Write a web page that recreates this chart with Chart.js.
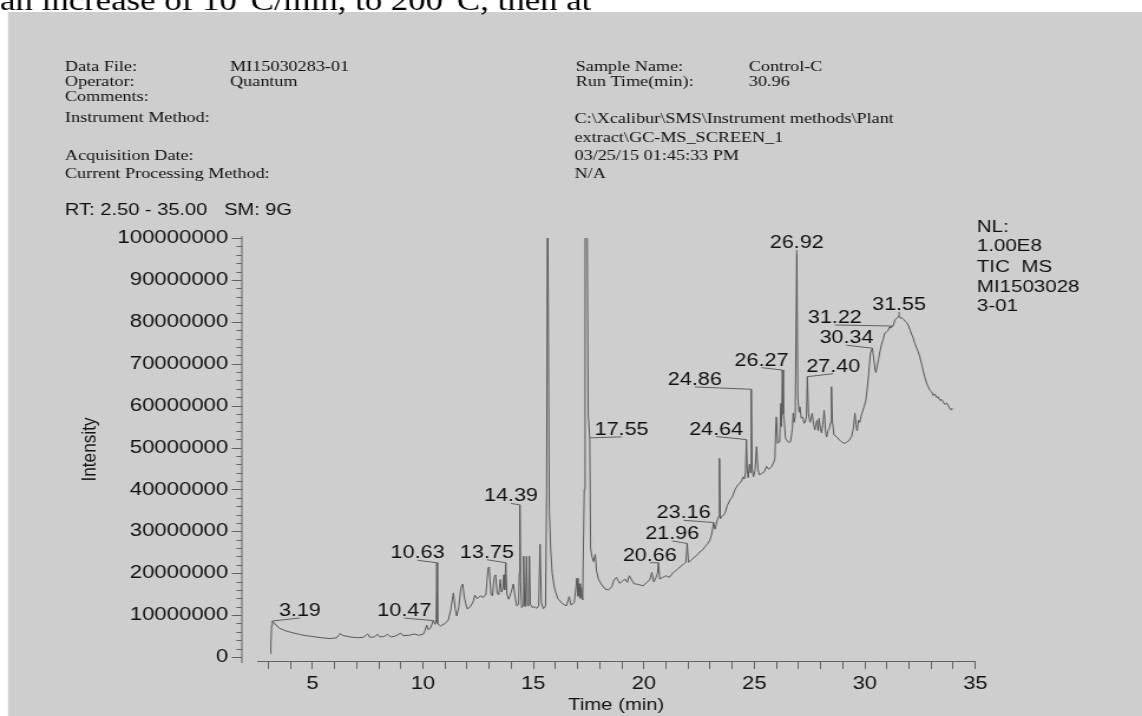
<!DOCTYPE html>
<html>
<head>
<meta charset="utf-8">
<title>TIC chromatogram – Control-C</title>
<script src="https://cdn.jsdelivr.net/npm/chart.js@4.4.1/dist/chart.umd.min.js"></script>
<style>
  html, body { margin: 0; padding: 0; background: #ffffff; overflow: hidden; }
  #tic { display: block; }
</style>
</head>
<body>
<!-- the printout is stretched sideways: 968 canvas px shown over 1142 screen px -->
<canvas id="tic" width="968" height="716" style="width:1142px;height:716px"></canvas>
<script>
// ---- chromatogram trace: retention time (min) and intensity (millions of counts) ----
const traceTime = [
  3.10, 3.12, 3.15, 3.19, 3.30, 3.50, 3.80, 4.10, 4.40, 4.70,
  5.00, 5.40, 5.80, 6.10, 6.25, 6.35, 6.50, 6.70, 7.00, 7.30,
  7.50, 7.60, 7.80, 7.95, 8.05, 8.25, 8.40, 8.55, 8.75, 9.00,
  9.10, 9.40, 9.60, 9.80, 10.00, 10.10, 10.17, 10.25, 10.35, 10.47,
  10.55, 10.60, 10.63, 10.66, 10.80, 11.00, 11.15, 11.25, 11.38, 11.46,
  11.53, 11.62, 11.72, 11.80, 11.88, 12.00, 12.15, 12.28, 12.35, 12.45,
  12.60, 12.73, 12.85, 12.95, 13.00, 13.08, 13.15, 13.22, 13.29, 13.36,
  13.43, 13.50, 13.56, 13.62, 13.66, 13.70, 13.75, 13.80, 13.88, 14.00,
  14.09, 14.18, 14.25, 14.33, 14.36, 14.39, 14.42, 14.47, 14.52, 14.56,
  14.60, 14.64, 14.69, 14.73, 14.78, 14.82, 14.86, 14.95, 15.05, 15.15,
  15.24, 15.30, 15.36, 15.45, 15.55, 15.60, 15.64, 15.68, 15.72, 15.78,
  15.85, 15.95, 16.10, 16.30, 16.49, 16.62, 16.70, 16.85, 16.97, 17.02,
  17.08, 17.12, 17.17, 17.23, 17.30, 17.34, 17.42, 17.48, 17.55, 17.59,
  17.65, 17.72, 17.80, 17.86, 17.94, 18.10, 18.25, 18.40, 18.55, 18.65,
  18.76, 18.90, 19.05, 19.15, 19.25, 19.34, 19.45, 19.55, 19.67, 19.82,
  19.97, 20.12, 20.27, 20.36, 20.45, 20.55, 20.62, 20.66, 20.72, 20.85,
  21.00, 21.15, 21.30, 21.45, 21.63, 21.80, 21.90, 21.96, 22.02, 22.15,
  22.31, 22.45, 22.53, 22.65, 22.76, 22.88, 22.99, 23.08, 23.16, 23.22,
  23.32, 23.38, 23.42, 23.46, 23.55, 23.67, 23.78, 23.90, 24.00, 24.12,
  24.22, 24.34, 24.42, 24.49, 24.55, 24.60, 24.64, 24.68, 24.72, 24.78,
  24.82, 24.86, 24.90, 24.96, 25.03, 25.10, 25.16, 25.22, 25.33, 25.45,
  25.55, 25.65, 25.78, 25.88, 25.93, 25.97, 26.00, 26.05, 26.10, 26.15,
  26.20, 26.23, 26.27, 26.31, 26.35, 26.41, 26.46, 26.55, 26.64, 26.72,
  26.76, 26.80, 26.85, 26.92, 26.97, 27.02, 27.06, 27.12, 27.18, 27.25,
  27.30, 27.36, 27.40, 27.45, 27.52, 27.57, 27.62, 27.68, 27.74, 27.80,
  27.84, 27.89, 27.93, 27.99, 28.04, 28.10, 28.16, 28.22, 28.27, 28.33,
  28.39, 28.45, 28.49, 28.53, 28.60, 28.72, 28.85, 28.94, 29.05, 29.17,
  29.30, 29.40, 29.48, 29.55, 29.60, 29.65, 29.72, 29.77, 29.83, 29.89,
  29.97, 30.05, 30.15, 30.25, 30.34, 30.41, 30.47, 30.50, 30.56, 30.62,
  30.68, 30.75, 30.83, 30.90, 30.98, 31.05, 31.12, 31.17, 31.22, 31.27,
  31.36, 31.45, 31.55, 31.62, 31.67, 31.75, 31.83, 31.90, 31.98, 32.05,
  32.11, 32.18, 32.26, 32.34, 32.41, 32.48, 32.56, 32.63, 32.71, 32.79,
  32.87, 32.95, 33.02, 33.10, 33.17, 33.25, 33.32, 33.40, 33.47, 33.54,
  33.62, 33.70, 33.77, 33.85, 33.90, 33.94
];
const traceIntensity = [
  0.8, 3.0, 7.5, 8.6, 7.9, 6.9, 6.2, 5.8, 5.4, 5.1,
  4.9, 4.6, 4.4, 4.6, 5.6, 5.2, 5.0, 4.8, 4.6, 4.7,
  5.5, 4.7, 4.8, 5.4, 4.8, 4.9, 5.4, 4.8, 5.0, 5.7,
  5.1, 5.2, 5.5, 5.2, 5.4, 6.3, 7.6, 6.5, 7.0, 8.7,
  7.8, 9.0, 22.5, 8.0, 7.4, 8.0, 8.8, 11.0, 15.3, 11.5,
  9.8, 11.8, 16.5, 17.4, 14.0, 11.5, 12.0, 13.3, 14.8, 13.9,
  14.6, 14.2, 15.0, 21.2, 21.5, 15.0, 14.6, 19.0, 19.6, 15.3,
  14.8, 18.5, 15.5, 16.5, 19.6, 16.0, 22.5, 15.0, 13.8, 15.5,
  17.4, 14.0, 12.2, 12.6, 20.0, 36.3, 18.0, 11.8, 12.2, 24.1,
  12.4, 12.0, 24.0, 12.3, 12.2, 24.1, 12.6, 11.8, 12.0, 11.6,
  12.2, 26.9, 13.0, 11.5, 12.2, 40.0, 118, 118, 35.0, 26.0,
  20.0, 16.5, 14.0, 12.8, 12.2, 14.4, 12.4, 13.0, 18.8, 14.5,
  17.5, 14.0, 16.6, 13.6, 40.0, 118, 118, 58.0, 52.3, 26.0,
  24.0, 22.8, 24.5, 20.5, 18.6, 17.2, 16.2, 16.0, 16.8, 18.4,
  19.0, 17.6, 18.2, 18.6, 17.8, 19.4, 18.4, 17.5, 17.4, 17.2,
  17.0, 17.8, 18.4, 20.2, 17.9, 19.0, 20.0, 22.5, 18.6, 19.0,
  19.4, 19.0, 20.0, 20.6, 21.5, 22.2, 22.6, 27.1, 22.6, 23.2,
  23.9, 24.6, 25.1, 25.5, 26.3, 27.0, 27.9, 29.6, 32.1, 30.5,
  32.7, 33.5, 47.4, 33.0, 33.6, 34.3, 36.2, 37.5, 38.2, 39.9,
  40.8, 41.5, 42.0, 43.0, 42.5, 44.0, 51.9, 44.5, 42.8, 46.0,
  44.0, 63.9, 45.0, 43.0, 44.5, 50.2, 45.0, 43.5, 43.8, 44.2,
  45.5, 44.8, 45.4, 46.5, 47.4, 55.0, 57.3, 51.0, 51.4, 52.5,
  60.5, 55.0, 68.5, 58.0, 56.6, 52.2, 51.8, 51.2, 51.4, 54.5,
  58.2, 56.0, 57.5, 96.3, 62.0, 58.5, 59.7, 57.0, 57.3, 55.8,
  56.0, 57.5, 66.9, 58.0, 56.0, 57.0, 58.2, 55.5, 54.2, 56.0,
  56.5, 54.0, 57.0, 54.5, 53.5, 55.5, 58.9, 54.0, 52.5, 54.0,
  54.5, 56.0, 64.5, 56.5, 53.0, 52.6, 51.8, 51.4, 51.0, 51.2,
  51.8, 52.6, 54.5, 58.2, 55.5, 54.0, 56.5, 56.0, 57.5, 58.5,
  59.8, 61.3, 66.1, 72.5, 73.7, 70.9, 68.5, 67.9, 69.5, 71.0,
  72.8, 74.5, 75.8, 77.3, 77.6, 77.9, 78.8, 78.5, 79.0, 78.9,
  80.4, 80.9, 81.4, 80.8, 81.0, 80.6, 80.1, 79.8, 79.0, 78.0,
  77.1, 76.3, 74.9, 73.8, 72.9, 71.8, 70.1, 68.6, 66.9, 65.4,
  64.5, 63.6, 63.3, 62.4, 62.8, 61.9, 62.1, 61.2, 61.5, 60.9,
  60.3, 60.6, 60.1, 59.2, 59.0, 59.4
];

// retention times that carry a peak label
const peakTimes = [3.19, 10.47, 10.63, 13.75, 14.39, 17.55, 20.66, 21.96, 23.16,
                   24.64, 24.86, 26.27, 26.92, 27.40, 30.34, 31.22, 31.55];

// axis ticks
const xTickValues = [3, 4, 5, 6, 7, 8, 9, 10, 11, 12, 13, 14, 15, 16, 17, 18, 19,
                     20, 21, 22, 23, 24, 25, 26, 27, 28, 29, 30, 31, 32, 33, 34, 35];
const xLabelValues = [5, 10, 15, 20, 25, 30, 35];
const yTickValues = [0, 10000000, 20000000, 30000000, 40000000, 50000000,
                     60000000, 70000000, 80000000, 90000000, 100000000];
const yMinorStep = 2000000;

// run header text
const pageFragment = 'an increase of 10\u00B0C/min, to 200\u00B0C, then at';
const headerLabels = ['Data File:', 'Operator:', 'Comments:', 'Instrument Method:',
                      'Acquisition Date:', 'Current Processing Method:'];
const headerValues = ['MI15030283-01', 'Quantum'];
const sampleLabels = ['Sample Name:', 'Run Time(min):'];
const sampleValues = ['Control-C', '30.96'];
const methodLines = ['C:\\Xcalibur\\SMS\\Instrument methods\\Plant',
                     'extract\\GC-MS_SCREEN_1', '03/25/15 01:45:33 PM', 'N/A'];
const rangeLine = 'RT: 2.50 - 35.00   SM: 9G';
const normLines = ['NL:', '1.00E8', 'TIC  MS', 'MI1503028', '3-01'];

// ---- drawing styles & placement ----
const SANS = '"Liberation Sans", Arial, Helvetica, sans-serif';
const SERIF = '"Liberation Serif", "Times New Roman", serif';
const INK = '#111111';
const AXIS = '#626262';

// label box offset (canvas px) from each labelled apex
const peakLabelOffsets = [
  [23.3, -10], [-24.6, -9.5], [-16.3, -9.4], [-16, -10], [-7.6, -8.5], [27, -8],
  [-7.3, -7], [-12.7, -9.5], [-25.5, -9.2], [-25.6, -10], [-47.8, -9.3],
  [-17.7, -9.3], [0, -10.5], [21.9, -10], [-21.9, -10], [-48.3, -8], [0, -11]
];

const headerRowsLeft = [66, 81, 96, 117, 155, 173];
const headerRowsRight = [118, 137, 155, 173];
const normRows = [226, 245, 266, 286, 305];

// page background, grey report panel and the header block
const sheet = {
  id: 'sheet',
  beforeDraw(chart) {
    const ctx = chart.ctx;
    ctx.save();
    ctx.fillStyle = '#ffffff';
    ctx.fillRect(0, 0, chart.width, chart.height);
    ctx.fillStyle = '#cecece';
    ctx.fillRect(6.8, 12, chart.width, chart.height);

    ctx.fillStyle = '#000000';
    ctx.textBaseline = 'alphabetic';
    ctx.textAlign = 'left';
    ctx.font = '29.5px ' + SERIF;
    ctx.fillText(pageFragment, 0, 9.5);

    ctx.fillStyle = INK;
    ctx.font = '15.4px ' + SERIF;
    headerLabels.forEach((t, i) => ctx.fillText(t, 55.1, headerRowsLeft[i] + 5));
    headerValues.forEach((t, i) => ctx.fillText(t, 195, headerRowsLeft[i] + 5));
    sampleLabels.forEach((t, i) => ctx.fillText(t, 488, headerRowsLeft[i] + 5));
    sampleValues.forEach((t, i) => ctx.fillText(t, 634.7, headerRowsLeft[i] + 5));
    methodLines.forEach((t, i) => ctx.fillText(t, 487, headerRowsRight[i] + 5));

    ctx.font = '17px ' + SANS;
    ctx.fillText(rangeLine, 55.1, 209 + 6);
    ctx.font = '17.4px ' + SANS;
    normLines.forEach((t, i) => ctx.fillText(t, 828, normRows[i] + 6));
    ctx.restore();
  }
};

// intensity axis spine with major and minor tick marks, set off from the plot
const yAxisMarks = {
  id: 'yAxisMarks',
  afterDraw(chart) {
    const ctx = chart.ctx;
    const y = chart.scales.y;
    const x0 = chart.chartArea.left - 13;
    ctx.save();
    ctx.strokeStyle = AXIS;
    ctx.lineWidth = 1;
    ctx.beginPath();
    ctx.moveTo(x0, y.getPixelForValue(y.max) - 2);
    ctx.lineTo(x0, chart.chartArea.bottom + 2);
    for (let v = 0; v <= y.max; v += yMinorStep) {
      const py = Math.round(y.getPixelForValue(v)) + 0.5;
      const len = (v % 10000000 === 0) ? 8.5 : 4.5;
      ctx.moveTo(x0, py);
      ctx.lineTo(x0 - len, py);
    }
    ctx.stroke();
    ctx.restore();
  }
};

// retention-time labels with leader lines to their apex
const peakLabels = {
  id: 'peakLabels',
  afterDatasetsDraw(chart) {
    const ctx = chart.ctx;
    const xs = chart.scales.x, ys = chart.scales.y;
    ctx.save();
    ctx.font = '18.3px ' + SANS;
    ctx.textAlign = 'center';
    ctx.textBaseline = 'middle';
    ctx.strokeStyle = AXIS;
    ctx.lineWidth = 1;
    peakTimes.forEach((t, i) => {
      const k = traceTime.indexOf(t);
      const px = xs.getPixelForValue(t);
      const py = ys.getPixelForValue(traceIntensity[k] * 1e6);
      const lx = px + peakLabelOffsets[i][0];
      const ly = py + peakLabelOffsets[i][1];
      ctx.beginPath();
      ctx.moveTo(px, py);
      ctx.lineTo(lx, ly + 7);
      ctx.stroke();
      ctx.fillStyle = INK;
      ctx.fillText(t.toFixed(2), lx, ly);
    });
    ctx.restore();
  }
};

new Chart(document.getElementById('tic'), {
  type: 'line',
  data: {
    datasets: [{
      label: 'TIC MS',
      data: traceTime.map((t, i) => ({ x: t, y: traceIntensity[i] * 1e6 })),
      borderColor: '#585858',
      borderWidth: 1,
      pointRadius: 0,
      tension: 0,
      fill: false
    }]
  },
  options: {
    responsive: false,
    animation: false,
    devicePixelRatio: 1,
    layout: { padding: { top: 238, right: 141.3, bottom: 0, left: 0 } },
    plugins: { legend: { display: false }, tooltip: { enabled: false } },
    scales: {
      x: {
        type: 'linear',
        min: 2.5,
        max: 35,
        afterBuildTicks: s => { s.ticks = xTickValues.map(v => ({ value: v })); },
        afterFit: s => { s.height = 55; },
        grid: { display: true, drawOnChartArea: false, drawTicks: true, tickLength: 8, color: AXIS, lineWidth: 1 },
        border: { display: true, color: AXIS, width: 1 },
        ticks: {
          autoSkip: false, maxRotation: 0, padding: 4, color: INK,
          font: { family: SANS, size: 18.5 },
          callback: v => xLabelValues.includes(v) ? String(v) : ''
        },
        title: {
          display: true, text: 'Time (min)', color: INK,
          font: { family: SANS, size: 17.2 }, padding: { top: 0, bottom: 0.5 }
        }
      },
      y: {
        min: -950000,
        max: 100000000,
        afterBuildTicks: s => { s.ticks = yTickValues.map(v => ({ value: v })); },
        afterFit: s => { s.width = 218; },
        grid: { display: false, drawTicks: false },
        border: { display: false },
        ticks: {
          padding: 24.5, color: INK,
          font: { family: SANS, size: 18.8 },
          callback: v => Number(v).toFixed(0)
        },
        title: {
          display: true, text: 'Intensity', color: INK,
          font: { family: SANS, size: 17.2 }, padding: { top: 66, bottom: 0 }
        }
      }
    }
  },
  plugins: [sheet, yAxisMarks, peakLabels]
});
</script>
</body>
</html>
